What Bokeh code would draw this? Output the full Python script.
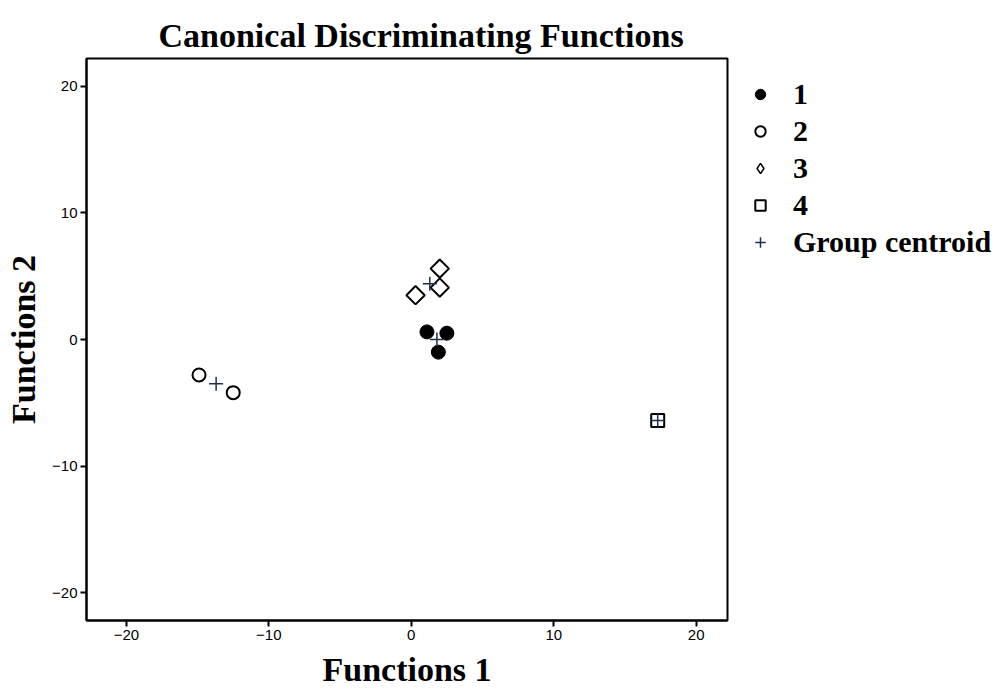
import math
from bokeh.plotting import figure
from bokeh.models import Range1d, Legend, LegendItem, FixedTicker
from bokeh.embed import file_html
from bokeh.resources import INLINE

# Data
g1_x = [1.1, 2.5, 1.9]
g1_y = [0.6, 0.5, -1.0]
g2_x = [-14.9, -12.5]
g2_y = [-2.8, -4.2]
g3_x = [2.0, 2.0, 0.3]
g3_y = [5.6, 4.1, 3.5]
g4_x = [17.3]
g4_y = [-6.4]
cent_x = [1.8, -13.7, 1.3, 17.3]
cent_y = [0.0, -3.5, 4.4, -6.4]
ticks = [-20, -10, 0, 10, 20]
labels = ["1", "2", "3", "4", "Group centroid"]

p = figure(frame_width=641, frame_height=562, output_backend="svg", toolbar_location=None,
           x_range=Range1d(-22.8, 22.2), y_range=Range1d(-22.2, 22.2),
           min_border_left=86, min_border_right=270, min_border_top=58, min_border_bottom=70)
p.title.text = "Canonical Discriminating Functions"
p.title.align = "left"
p.title.offset = 72
p.title.text_font = "Liberation Serif"
p.title.text_font_size = "34px"
p.title.text_font_style = "bold"
p.title.text_color = "black"

p.xgrid.visible = False
p.ygrid.visible = False
p.outline_line_color = "black"
p.outline_line_width = 2

for ax in (p.xaxis[0], p.yaxis[0]):
    ax.ticker = FixedTicker(ticks=ticks)
    ax.minor_tick_line_color = None
    ax.major_tick_out = 6
    ax.major_tick_in = 0
    ax.major_tick_line_width = 2
    ax.axis_line_width = 2
    ax.major_label_text_font = "Liberation Sans"
    ax.major_label_text_font_size = "15px"
    ax.major_label_text_color = "black"
    ax.major_label_standoff = 3
    ax.axis_label_text_font = "Liberation Serif"
    ax.axis_label_text_font_style = "bold"
    ax.axis_label_text_font_size = "34px"
    ax.axis_label_text_color = "black"
p.xaxis.axis_label = "Functions 1"
p.yaxis.axis_label = "Functions 2"
p.yaxis.major_label_orientation = "horizontal"
p.xaxis.axis_label_standoff = 8
p.yaxis.axis_label_standoff = 7

r1 = p.scatter(g1_x, g1_y, marker="circle", size=14, fill_color="black", line_color="black")
r2 = p.scatter(g2_x, g2_y, marker="circle", size=13, fill_color=None, line_color="black", line_width=2)
r3 = p.scatter(g3_x, g3_y, marker="square", angle=math.pi / 4, size=13, fill_color=None,
               line_color="black", line_width=2)
r4 = p.scatter(g4_x, g4_y, marker="square", size=13, fill_color=None, line_color="black", line_width=2)
rc = p.scatter(cent_x, cent_y, marker="cross", size=14, line_color="#1f3050", line_width=1.5)
# legend-only glyph for group 3 (narrow diamond, zero size on the plot)
r3_leg = p.scatter(g3_x, g3_y, marker="diamond", size=0, fill_color=None, line_color="black", line_width=1.5)

legend = Legend(items=[LegendItem(label=l, renderers=[r]) for l, r in zip(labels, [r1, r2, r3_leg, r4, rc])],
                location=(20, 361))
legend.label_text_font = "Liberation Serif"
legend.label_text_font_style = "bold"
legend.label_text_font_size = "30px"
legend.label_text_color = "black"
legend.glyph_width = 26
legend.glyph_height = 34
legend.label_height = 34
legend.spacing = 3
legend.label_standoff = 20
legend.border_line_alpha = 0
legend.background_fill_alpha = 0
legend.padding = 0
legend.margin = 0
p.add_layout(legend, "right")

open("out.html", "w").write(file_html(p, INLINE))
